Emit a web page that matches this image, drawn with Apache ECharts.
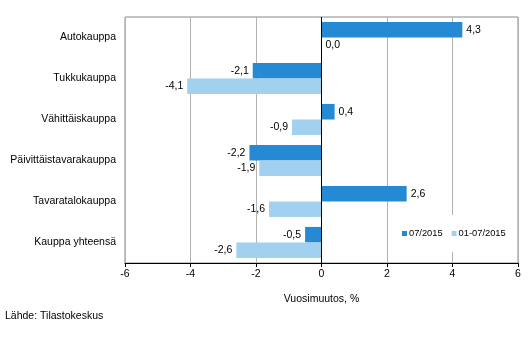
<!DOCTYPE html>
<html>
<head>
<meta charset="utf-8">
<script src="https://cdn.jsdelivr.net/npm/echarts@6/dist/echarts.min.js"></script>
<style>html,body{margin:0;padding:0;background:#fff}#c{width:529px;height:356px}</style>
</head>
<body>
<div id="c"></div>
<script>
const categories = ['Autokauppa', 'Tukkukauppa', 'Vähittäiskauppa', 'Päivittäistavarakauppa', 'Tavaratalokauppa', 'Kauppa yhteensä'];
const seriesNames = ['07/2015', '01-07/2015'];
const values0715 = [4.3, -2.1, 0.4, -2.2, 2.6, -0.5];
const values0107 = [0.0, -4.1, -0.9, -1.9, -1.6, -2.6];
const xTicks = [-6, -4, -2, 0, 2, 4, 6];
const axisName = 'Vuosimuutos, %';
const sourceText = 'Lähde: Tilastokeskus';

const FONT = 'Liberation Sans, Arial, sans-serif';
const fmt = v => String(v.toFixed(1)).replace('.', ',');
function mk(vals) {
  return vals.map(v => ({
    value: v,
    label: { position: v < 0 ? 'left' : 'right' }
  }));
}
const chart = echarts.init(document.getElementById('c'), null, { renderer: 'canvas' });
chart.setOption({
  animation: false,
  backgroundColor: '#fff',
  textStyle: { fontFamily: FONT },
  grid: { left: 125, right: 11, top: 17, bottom: 93, show: true, borderColor: '#888', borderWidth: 1 },
  xAxis: {
    type: 'value', min: xTicks[0], max: xTicks[xTicks.length - 1], interval: 2,
    axisLine: { show: true, onZero: false, lineStyle: { color: '#000', width: 1 } },
    axisTick: { show: true, length: 4, lineStyle: { color: '#000' } },
    axisLabel: { color: '#000', fontSize: 10.5, fontFamily: FONT, margin: 6, formatter: v => String(v) },
    splitLine: { show: true, lineStyle: { color: '#b3b3b3', width: 1 } },
    name: axisName, nameLocation: 'middle', nameGap: 31,
    nameTextStyle: { color: '#000', fontSize: 10.5, fontFamily: FONT }
  },
  yAxis: {
    type: 'category', data: categories, inverse: true,
    axisLine: { show: false, onZero: false },
    axisTick: { show: false },
    axisLabel: { color: '#000', fontSize: 10.5, fontFamily: FONT, margin: 9 },
    splitLine: { show: false }
  },
  legend: {
    data: seriesNames, left: 394, top: 215, orient: 'horizontal',
    itemWidth: 5, itemHeight: 5, itemGap: 9,
    backgroundColor: '#fff', padding: [14, 8, 14, 8],
    textStyle: { color: '#000', fontSize: 9.3, fontFamily: FONT, padding: [0, 0, 0, -3] },
    icon: 'rect'
  },
  series: [
    {
      name: seriesNames[0], type: 'bar', data: mk(values0715),
      barGap: '0%', barCategoryGap: '24%',
      itemStyle: { color: '#2589d3' },
      label: { show: true, color: '#000', fontSize: 10.5, fontFamily: FONT, distance: 4, formatter: p => fmt(p.value) },
      markLine: {
        silent: true, symbol: 'none', label: { show: false },
        lineStyle: { color: '#000', width: 1, type: 'solid' },
        data: [{ xAxis: 0 }]
      }
    },
    {
      name: seriesNames[1], type: 'bar', data: mk(values0107),
      barGap: '0%', barCategoryGap: '24%',
      itemStyle: { color: '#a2d0ef' },
      label: { show: true, color: '#000', fontSize: 10.5, fontFamily: FONT, distance: 4, formatter: p => fmt(p.value) }
    }
  ],
  graphic: [{
    type: 'text', left: 5, top: 311,
    style: { text: sourceText, fill: '#000', fontSize: 10.5, fontFamily: FONT }
  }]
});
</script>
</body>
</html>
